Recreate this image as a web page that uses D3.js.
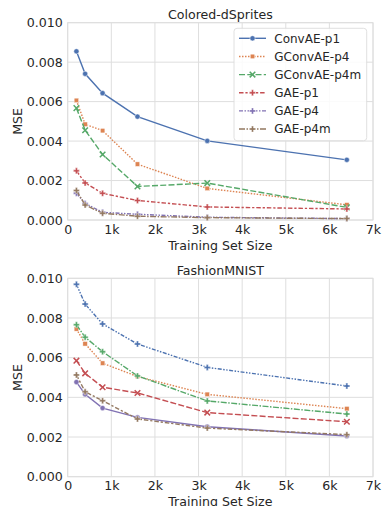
<!DOCTYPE html>
<html><head><meta charset="utf-8">
<script src="https://cdn.jsdelivr.net/npm/d3@7"></script>
<style>
html,body{margin:0;padding:0;background:#fff;}
text{font-family:"DejaVu Sans",sans-serif;fill:#262626;}
</style></head>
<body><svg id="c" width="383" height="506"></svg>
<script>
// ---------------- data ----------------
const trainSizes = [200, 400, 800, 1600, 3200, 6400];
const seriesNames = ["ConvAE-p1", "GConvAE-p4", "GConvAE-p4m", "GAE-p1", "GAE-p4", "GAE-p4m"];
const panelTitles = ["Colored-dSprites", "FashionMNIST"];
const xTickValues = [0, 1000, 2000, 3000, 4000, 5000, 6000, 7000];
const xTickLabels = ["0", "1k", "2k", "3k", "4k", "5k", "6k", "7k"];
const yTickValues = [0, 0.002, 0.004, 0.006, 0.008, 0.010];
const yTickLabels = ["0.000", "0.002", "0.004", "0.006", "0.008", "0.010"];

// Colored-dSprites MSE
const dsConvAEp1   = [0.00855, 0.00741, 0.00643, 0.00524, 0.00401, 0.00305];
const dsGConvAEp4  = [0.00606, 0.00485, 0.00453, 0.00283, 0.00160, 0.00077];
const dsGConvAEp4m = [0.00567, 0.00455, 0.00332, 0.00170, 0.00187, 0.00064];
const dsGAEp1      = [0.00249, 0.00188, 0.00135, 0.00099, 0.00066, 0.00056];
const dsGAEp4      = [0.00136, 0.00084, 0.00039, 0.00029, 0.00014, 0.00007];
const dsGAEp4m     = [0.00150, 0.00076, 0.00034, 0.00019, 0.00012, 0.00007];

// FashionMNIST MSE
const fmConvAEp1   = [0.00970, 0.00870, 0.00770, 0.00669, 0.00551, 0.00457];
const fmGConvAEp4  = [0.00745, 0.00670, 0.00572, 0.00505, 0.00415, 0.00343];
const fmGConvAEp4m = [0.00766, 0.00703, 0.00630, 0.00508, 0.00382, 0.00316];
const fmGAEp1      = [0.00585, 0.00521, 0.00451, 0.00422, 0.00323, 0.00277];
const fmGAEp4      = [0.00477, 0.00415, 0.00346, 0.00299, 0.00252, 0.00205];
const fmGAEp4m     = [0.00513, 0.00428, 0.00383, 0.00291, 0.00245, 0.00212];

const colors = ["#4c72b0", "#dd8452", "#55a868", "#c44e52", "#8172b3", "#937860"];

// line styles per panel (dash, marker)
const dsStyles = [
  {dash: null, marker: "circle"},
  {dash: "1.5,1.5", marker: "square"},
  {dash: "6,2.25", marker: "x"},
  {dash: "4.5,1.9,2.25,1.9", marker: "plus"},
  {dash: "4,1.5,1.5,1.5,1.5,1.5", marker: "plus"},
  {dash: "6,1.5,1.5,1.5", marker: "plus"}
];
const fmStyles = [
  {dash: "4,1.5,1.5,1.5,1.5,1.5", marker: "plus"},
  {dash: "1.5,1.5", marker: "square"},
  {dash: "6,1.5,1.5,1.5", marker: "plus"},
  {dash: "6,2.25", marker: "x"},
  {dash: null, marker: "circle"},
  {dash: "4.5,1.9,2.25,1.9", marker: "plus"}
];

const panels = [
  {title: panelTitles[0], series: [dsConvAEp1, dsGConvAEp4, dsGConvAEp4m, dsGAEp1, dsGAEp4, dsGAEp4m], styles: dsStyles, top: 22.7, bottom: 220, legend: true},
  {title: panelTitles[1], series: [fmConvAEp1, fmGConvAEp4, fmGConvAEp4m, fmGAEp1, fmGAEp4, fmGAEp4m], styles: fmStyles, top: 278.3, bottom: 476.7, legend: false}
];

const svg = d3.select("#c");
const left = 67.7, right = 373;
const gridColor = "#dedede";

function drawMarker(g, type, x, y, color) {
  if (type === "circle") {
    g.append("circle").attr("cx", x).attr("cy", y).attr("r", 2.6)
      .attr("fill", color).attr("stroke", "#fff").attr("stroke-width", 0.5);
  } else if (type === "square") {
    g.append("rect").attr("x", x - 2.3).attr("y", y - 2.3).attr("width", 4.6).attr("height", 4.6)
      .attr("fill", color).attr("stroke", "#fff").attr("stroke-width", 0.5);
  } else if (type === "x") {
    g.append("path").attr("d", d3.symbol().type(d3.symbolX).size(22)())
      .attr("transform", `translate(${x},${y})`)
      .attr("fill", "none").attr("stroke", color).attr("stroke-width", 1.5);
  } else {
    g.append("path").attr("d", d3.symbol().type(d3.symbolCross).size(20)())
      .attr("transform", `translate(${x},${y})`)
      .attr("fill", color).attr("stroke", "#fff").attr("stroke-width", 0.4);
  }
}

panels.forEach(p => {
  const x = d3.scaleLinear().domain([0, 7000]).range([left, right]);
  const y = d3.scaleLinear().domain([0, 0.010]).range([p.bottom, p.top]);
  const g = svg.append("g");

  // grid
  g.selectAll(".vg").data(xTickValues).join("line")
    .attr("x1", d => x(d)).attr("x2", d => x(d)).attr("y1", p.top).attr("y2", p.bottom)
    .attr("stroke", gridColor).attr("stroke-width", 1);
  g.selectAll(".hg").data(yTickValues).join("line")
    .attr("x1", left).attr("x2", right).attr("y1", d => y(d)).attr("y2", d => y(d))
    .attr("stroke", gridColor).attr("stroke-width", 1);
  // frame
  g.append("rect").attr("x", left).attr("y", p.top).attr("width", right - left).attr("height", p.bottom - p.top)
    .attr("fill", "none").attr("stroke", gridColor).attr("stroke-width", 1);

  // axes (ticks text via d3 axes)
  const xa = d3.axisBottom(x).tickValues(xTickValues).tickFormat((d, i) => xTickLabels[i]).tickSize(0).tickPadding(4);
  const ya = d3.axisLeft(y).tickValues(yTickValues).tickFormat((d, i) => yTickLabels[i]).tickSize(0).tickPadding(5);
  const gx = g.append("g").attr("transform", `translate(0,${p.bottom})`).call(xa);
  const gy = g.append("g").attr("transform", `translate(${left},0)`).call(ya);
  [gx, gy].forEach(a => {
    a.select(".domain").remove();
    a.selectAll("text").attr("font-size", 12.6).attr("font-family", "DejaVu Sans").attr("fill", "#262626");
  });
  gx.selectAll("text").attr("dy", "0.76em");

  // labels
  g.append("text").attr("x", (left + right) / 2).attr("y", p.bottom + 29.5).attr("text-anchor", "middle")
    .attr("font-size", 12.6).text("Training Set Size");
  g.append("text").attr("transform", `translate(22,${(p.top + p.bottom) / 2}) rotate(-90)`)
    .attr("text-anchor", "middle").attr("font-size", 12.6).text("MSE");
  g.append("text").attr("x", (left + right) / 2).attr("y", p.top - 3.5).attr("text-anchor", "middle")
    .attr("font-size", 12.6).text(p.title);

  // lines
  const line = d3.line().x((d, i) => x(trainSizes[i])).y(d => y(d));
  p.series.forEach((vals, si) => {
    const st = p.styles[si];
    g.append("path").datum(vals).attr("d", line)
      .attr("fill", "none").attr("stroke", colors[si]).attr("stroke-width", 1.4)
      .attr("stroke-dasharray", st.dash);
    vals.forEach((v, i) => drawMarker(g, st.marker, x(trainSizes[i]), y(v), colors[si]));
  });

  // legend
  if (p.legend) {
    const lg = g.append("g");
    lg.append("rect").attr("x", 234).attr("y", 28.3).attr("width", 132.7).attr("height", 112.4)
      .attr("rx", 3).attr("fill", "#fff").attr("fill-opacity", 0.85).attr("stroke", "#d8d8d8").attr("stroke-width", 0.8);
    seriesNames.forEach((name, si) => {
      const yy = 38.3 + si * 18.15;
      const st = p.styles[si];
      lg.append("line").attr("x1", 239).attr("x2", 266).attr("y1", yy).attr("y2", yy)
        .attr("stroke", colors[si]).attr("stroke-width", 1.4).attr("stroke-dasharray", st.dash);
      drawMarker(lg, st.marker, 252.5, yy, colors[si]);
      lg.append("text").attr("x", 274.3).attr("y", yy).attr("dy", "0.36em")
        .attr("font-size", 12).text(name);
    });
  }
});
</script></body></html>
